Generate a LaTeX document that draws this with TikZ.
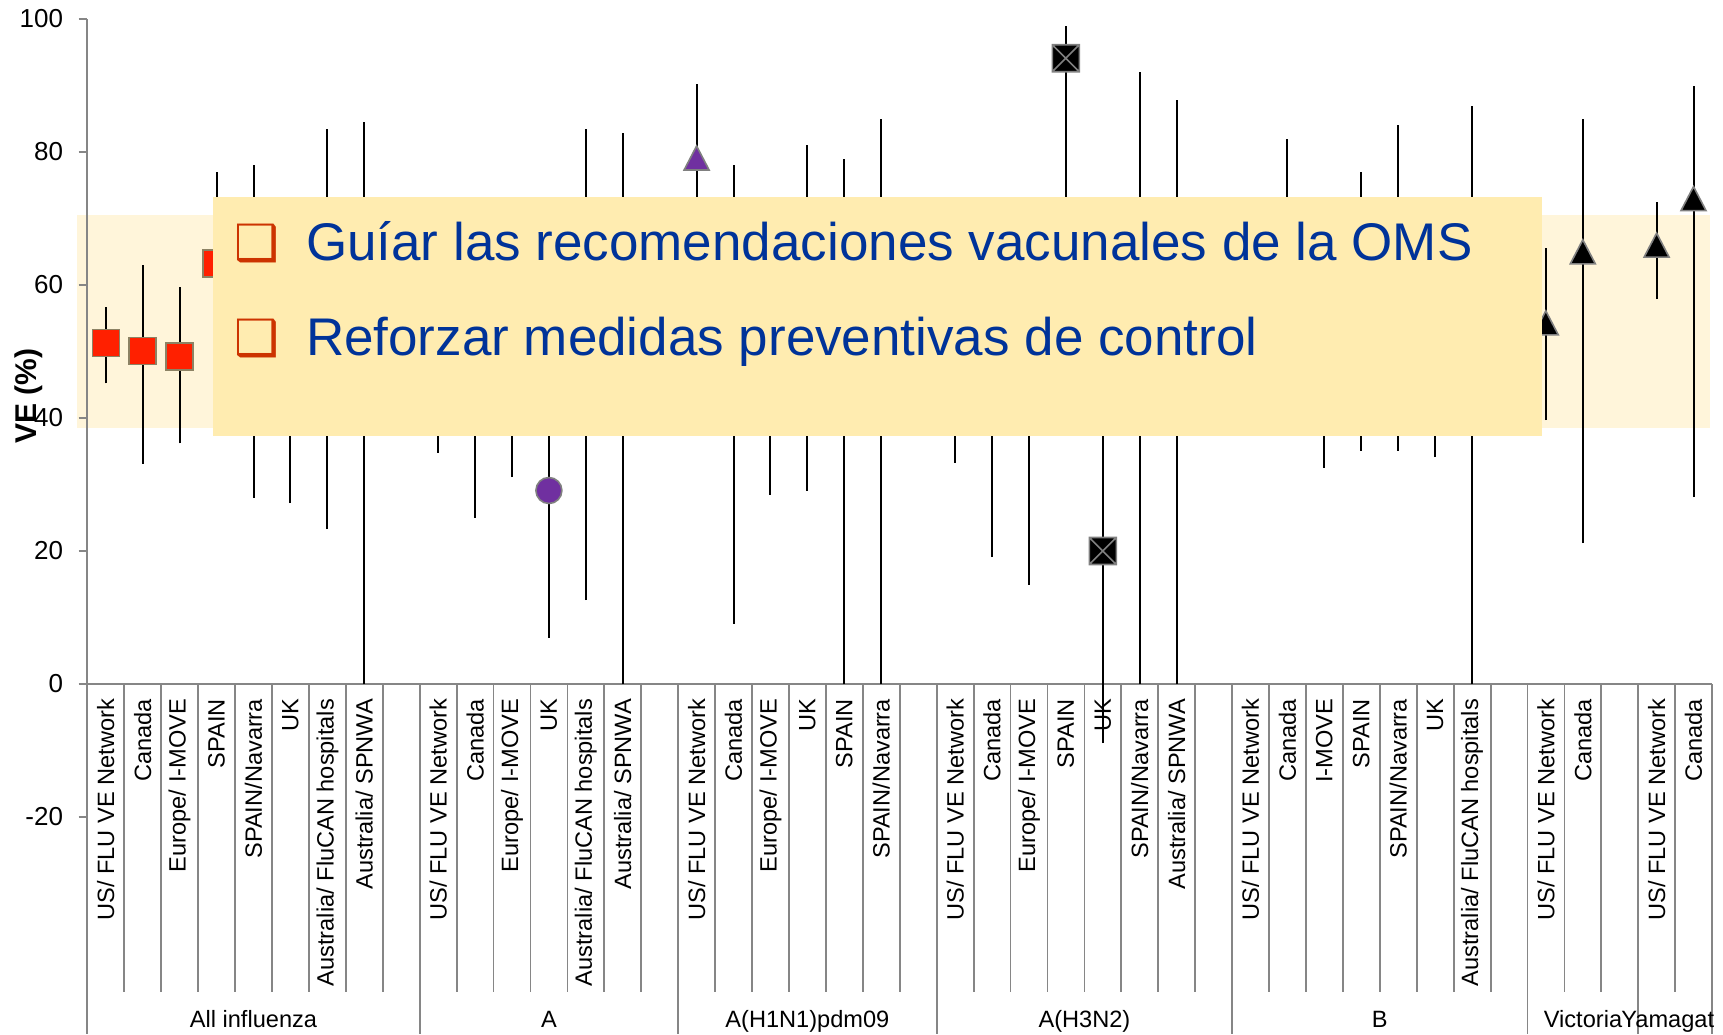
\documentclass[tikz,border=0pt]{standalone}
\usepackage{fontspec}
\setmainfont{Liberation Sans}
\newfontfamily\dingfont{DejaVu Sans}

\definecolor{cff2000}{RGB}{255,32,0}
\definecolor{c7030a0}{RGB}{112,48,160}
\definecolor{c868686}{RGB}{134,134,134}
\definecolor{c8c8264}{RGB}{140,130,100}
\definecolor{c808080}{RGB}{128,128,128}
\definecolor{cffecb0}{RGB}{255,236,176}
\definecolor{cfff5da}{RGB}{255,245,218}
\definecolor{c003399}{RGB}{0,51,153}
\definecolor{ccc3300}{RGB}{204,51,0}

\begin{document}
\begin{tikzpicture}[y=0.5pt, x=0.5pt, yscale=-1, inner sep=0pt, outer sep=0pt,
  axisline/.style={draw=c868686,line width=0.9pt},
  whisk/.style={draw=black,line width=1pt},
  redsq/.style={fill=cff2000,draw=c8c8264,line width=0.8pt},
  blktri/.style={fill=black,draw=c808080,line width=0.8pt},
  purtri/.style={fill=c7030a0,draw=c808080,line width=0.8pt},
  purdot/.style={fill=c7030a0,draw=c808080,line width=0.8pt},
  xsq/.style={fill=black,draw=c808080,line width=0.8pt},
  ticklbl/.style={anchor=east,font=\fontsize{13}{15}\selectfont},
  catlbl/.style={rotate=90,anchor=east,font=\fontsize{11.8}{14}\selectfont},
  grplbl/.style={anchor=base,font=\fontsize{11.8}{14}\selectfont},
  boxtext/.style={anchor=base west,text=c003399,font=\fontsize{26.5}{30}\selectfont},
  bullet/.style={anchor=base west,text=ccc3300,font=\dingfont\fontsize{25}{30}\selectfont}]

  \path[use as bounding box] (0,0) rectangle (1723,1034);

  % highlighted range
  \path[fill=cfff5da] (77,215) rectangle (1710,428);

  % axes and ticks
  \path[axisline] (87.3,19) -- (87.3,1034);
  \path[axisline] (87.3,684) -- (1712.1,684);
  \path[axisline] (78.5,19) -- (87.3,19) (78.5,152) -- (87.3,152)
    (78.5,285) -- (87.3,285) (78.5,418) -- (87.3,418) (78.5,551) -- (87.3,551)
    (78.5,684) -- (87.3,684) (78.5,817) -- (87.3,817);
  \node[ticklbl] (tick100) at (63,19) {100};
  \node[ticklbl] (tick80) at (63,152) {80};
  \node[ticklbl] (tick60) at (63,285) {60};
  \node[ticklbl] (tick40) at (63,418) {40};
  \node[ticklbl] (tick20) at (63,551) {20};
  \node[ticklbl] (tick0) at (63,684) {0};
  \node[ticklbl] (tickm20) at (63,817) {-20};
  \node[rotate=90,font=\fontsize{15}{18}\selectfont\bfseries] (ylabel) at
    (28.7,396) {VE (\%)};

  % category separators
  \path[axisline] (124.2,684) -- (124.2,992) (161.2,684) -- (161.2,992)
    (198.1,684) -- (198.1,992) (235.0,684) -- (235.0,992) (271.9,684) --
    (271.9,992) (308.9,684) -- (308.9,992) (345.8,684) -- (345.8,992)
    (382.7,684) -- (382.7,992) (456.6,684) -- (456.6,992) (493.5,684) --
    (493.5,992) (530.5,684) -- (530.5,992) (567.4,684) -- (567.4,992)
    (604.3,684) -- (604.3,992) (641.2,684) -- (641.2,992) (715.1,684) --
    (715.1,992) (752.0,684) -- (752.0,992) (788.9,684) -- (788.9,992)
    (825.9,684) -- (825.9,992) (862.8,684) -- (862.8,992) (899.7,684) --
    (899.7,992) (973.6,684) -- (973.6,992) (1010.5,684) -- (1010.5,992)
    (1047.4,684) -- (1047.4,992) (1084.4,684) -- (1084.4,992) (1121.3,684) --
    (1121.3,992) (1158.2,684) -- (1158.2,992) (1195.1,684) -- (1195.1,992)
    (1269.0,684) -- (1269.0,992) (1305.9,684) -- (1305.9,992) (1342.9,684) --
    (1342.9,992) (1379.8,684) -- (1379.8,992) (1416.7,684) -- (1416.7,992)
    (1453.6,684) -- (1453.6,992) (1490.6,684) -- (1490.6,992) (1564.4,684) --
    (1564.4,992) (1601.3,684) -- (1601.3,992) (1675.2,684) -- (1675.2,992);
  \path[axisline] (419.7,684) -- (419.7,1034) (678.2,684) -- (678.2,1034)
    (936.7,684) -- (936.7,1034) (1232.1,684) -- (1232.1,1034) (1527.5,684) --
    (1527.5,1034) (1638.3,684) -- (1638.3,1034) (1712.1,684) -- (1712.1,1034);

  % category labels
  \node[catlbl] (cat0) at (105.8,699) {US/ FLU VE Network};
  \node[catlbl] (cat1) at (142.7,699) {Canada};
  \node[catlbl] (cat2) at (179.6,699) {Europe/ I-MOVE};
  \node[catlbl] (cat3) at (216.6,699) {SPAIN};
  \node[catlbl] (cat4) at (253.5,699) {SPAIN/Navarra};
  \node[catlbl] (cat5) at (290.4,699) {UK};
  \node[catlbl] (cat6) at (327.4,699) {Australia/ FluCAN hospitals};
  \node[catlbl] (cat7) at (364.3,699) {Australia/ SPNWA};
  \node[catlbl] (cat9) at (438.1,699) {US/ FLU VE Network};
  \node[catlbl] (cat10) at (475.1,699) {Canada};
  \node[catlbl] (cat11) at (512.0,699) {Europe/ I-MOVE};
  \node[catlbl] (cat12) at (548.9,699) {UK};
  \node[catlbl] (cat13) at (585.8,699) {Australia/ FluCAN hospitals};
  \node[catlbl] (cat14) at (622.7,699) {Australia/ SPNWA};
  \node[catlbl] (cat16) at (696.6,699) {US/ FLU VE Network};
  \node[catlbl] (cat17) at (733.5,699) {Canada};
  \node[catlbl] (cat18) at (770.4,699) {Europe/ I-MOVE};
  \node[catlbl] (cat19) at (807.4,699) {UK};
  \node[catlbl] (cat20) at (844.3,699) {SPAIN};
  \node[catlbl] (cat21) at (881.2,699) {SPAIN/Navarra};
  \node[catlbl] (cat23) at (955.1,699) {US/ FLU VE Network};
  \node[catlbl] (cat24) at (992.0,699) {Canada};
  \node[catlbl] (cat25) at (1028.9,699) {Europe/ I-MOVE};
  \node[catlbl] (cat26) at (1065.8,699) {SPAIN};
  \node[catlbl] (cat27) at (1102.8,699) {UK};
  \node[catlbl] (cat28) at (1139.7,699) {SPAIN/Navarra};
  \node[catlbl] (cat29) at (1176.6,699) {Australia/ SPNWA};
  \node[catlbl] (cat31) at (1250.4,699) {US/ FLU VE Network};
  \node[catlbl] (cat32) at (1287.4,699) {Canada};
  \node[catlbl] (cat33) at (1324.3,699) {I-MOVE};
  \node[catlbl] (cat34) at (1361.2,699) {SPAIN};
  \node[catlbl] (cat35) at (1398.1,699) {SPAIN/Navarra};
  \node[catlbl] (cat36) at (1435.1,699) {UK};
  \node[catlbl] (cat37) at (1472.0,699) {Australia/ FluCAN hospitals};
  \node[catlbl] (cat39) at (1545.8,699) {US/ FLU VE Network};
  \node[catlbl] (cat40) at (1582.8,699) {Canada};
  \node[catlbl] (cat42) at (1656.6,699) {US/ FLU VE Network};
  \node[catlbl] (cat43) at (1693.5,699) {Canada};

  % group labels
  \node[grplbl] (grpall) at (253.5,1027) {All influenza};
  \node[grplbl] (grpa) at (548.9,1027) {A};
  \node[grplbl] (grph1n1) at (807.4,1027) {A(H1N1)pdm09};
  \node[grplbl] (grph3n2) at (1084.4,1027) {A(H3N2)};
  \node[grplbl] (grpb) at (1379.8,1027) {B};
  \node[grplbl] (grpvic) at (1583.0,1027) {Victoria};
  \node[grplbl,anchor=base west] (grpyam) at (1621.4,1027) {Yamagat};

  % confidence intervals
  \path[whisk] (105.8,383.4) -- (105.8,306.9) (142.7,463.9) -- (142.7,265.0)
    (179.6,443.3) -- (179.6,287.0) (216.6,351.5) -- (216.6,172.0)
    (253.5,497.8) -- (253.5,165.3) (290.4,503.1) -- (290.4,230)
    (327.4,529.1) -- (327.4,129.4) (364.3,684) -- (364.3,122.1);
  \path[whisk] (438.1,452.6) -- (438.1,300) (475.1,517.8) -- (475.1,300)
    (512.0,477.2) -- (512.0,300) (548.9,637.5) -- (548.9,350)
    (585.8,600.2) -- (585.8,129.4) (622.7,684) -- (622.7,133.4);
  \path[whisk] (696.6,350) -- (696.6,83.5) (733.5,623.5) -- (733.5,165.3)
    (770.4,494.5) -- (770.4,300) (807.4,490.5) -- (807.4,145.4)
    (844.3,684) -- (844.3,158.6) (881.2,684) -- (881.2,118.8);
  \path[whisk] (955.1,462.6) -- (955.1,300) (992.0,557) -- (992.0,300)
    (1028.9,584.9) -- (1028.9,300) (1065.8,350) -- (1065.8,25.7)
    (1102.8,743.2) -- (1102.8,300) (1139.7,684) -- (1139.7,72.2)
    (1176.6,684) -- (1176.6,100.1);
  \path[whisk] (1287.4,350) -- (1287.4,138.7) (1324.3,467.9) -- (1324.3,300)
    (1361.2,450.6) -- (1361.2,172) (1398.1,450.6) -- (1398.1,125.4)
    (1435.1,457.2) -- (1435.1,300) (1472.0,684) -- (1472.0,106.1);
  \path[whisk] (1545.8,420) -- (1545.8,248.4) (1582.8,543) -- (1582.8,118.8)
    (1656.6,299) -- (1656.6,201.9) (1693.5,497.1) -- (1693.5,85.5);

  % point estimates
  \path[redsq] (105.8,342.9) ++(-13.5,-13.5) rectangle ++(27,27);
  \path[redsq] (142.7,350.8) ++(-13.5,-13.5) rectangle ++(27,27);
  \path[redsq] (179.6,356.2) ++(-13.5,-13.5) rectangle ++(27,27);
  \path[redsq] (216.6,263.7) ++(-13.5,-13.5) rectangle ++(27,27);
  \path[purdot] (548.9,490.5) circle (13);
  \path[purtri] (696.6,158.0) ++(0,-12) -- ++(12.5,24) -- ++(-25,0) -- cycle;
  \path[xsq] (1065.8,58.2) ++(-13.5,-13.5) rectangle ++(27,27) -- ++(-27,-27)
    ++(0,27) -- ++(27,-27);
  \path[xsq] (1102.8,551) ++(-13.5,-13.5) rectangle ++(27,27) -- ++(-27,-27)
    ++(0,27) -- ++(27,-27);
  \path[blktri] (1545.8,322.9) ++(0,-12) -- ++(12.5,24) -- ++(-25,0) -- cycle;
  \path[blktri] (1582.8,251.8) ++(0,-12) -- ++(12.5,24) -- ++(-25,0) -- cycle;
  \path[blktri] (1656.6,245.1) ++(0,-12) -- ++(12.5,24) -- ++(-25,0) -- cycle;
  \path[blktri] (1693.5,198.6) ++(0,-12) -- ++(12.5,24) -- ++(-25,0) -- cycle;

  % message box
  \path[fill=cffecb0] (212.7,196.7) rectangle (1542,435.7);
  \node[bullet] (bul1) at (234,260) {❑};
  \node[boxtext] (msg1) at (306,260) {Guíar las recomendaciones vacunales de la OMS};
  \node[bullet] (bul2) at (234,355) {❑};
  \node[boxtext] (msg2) at (306,355) {Reforzar medidas preventivas de control};

\end{tikzpicture}
\end{document}
